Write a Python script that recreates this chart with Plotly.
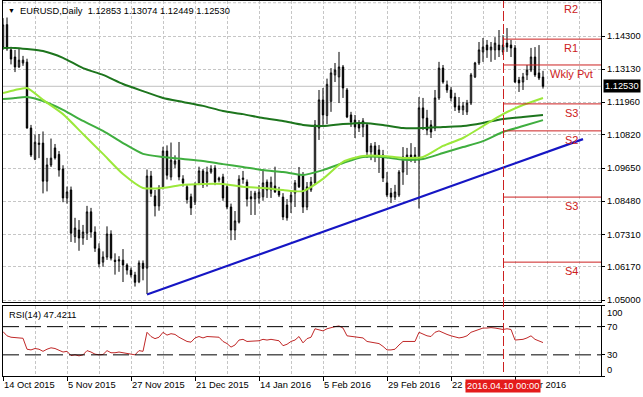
import plotly.graph_objects as go

# ---------------- data ----------------
tick_bars = [0, 16, 32, 48, 64, 80, 96, 112, 128]
tick_labels = ["14 Oct 2015", "5 Nov 2015", "27 Nov 2015", "21 Dec 2015", "14 Jan 2016",
               "5 Feb 2016", "29 Feb 2016", "22 Mar 2016", "14 Apr 2016"]

price_ticks = [1.14300, 1.13130, 1.11960, 1.10820, 1.09650, 1.08480, 1.07310, 1.06170, 1.05000]

opens = [1.1391, 1.1470, 1.1381, 1.1356, 1.1321, 1.1335, 1.1338, 1.1106, 1.0996, 1.1048,
         1.1053, 1.0919, 1.0976, 1.1036, 1.1013, 1.0962, 1.0860, 1.0888, 1.0724, 1.0747,
         1.0719, 1.0736, 1.0811, 1.0740, 1.0681, 1.0634, 1.0652, 1.0733, 1.0641, 1.0638,
         1.0641, 1.0624, 1.0606, 1.0589, 1.0565, 1.0630, 1.0613, 1.0937, 1.0867, 1.0832,
         1.0895, 1.1025, 1.0934, 1.0979, 1.0993, 1.0927, 1.0899, 1.0864, 1.0846, 1.0913,
         1.0955, 1.0916, 1.0951, 1.0965, 1.0923, 1.0934, 1.0899, 1.0828, 1.0747, 1.0775,
         1.0925, 1.0916, 1.0864, 1.0857, 1.0860, 1.0864, 1.0916, 1.0888, 1.0902, 1.0884,
         1.0863, 1.0835, 1.0846, 1.0877, 1.0941, 1.0941, 1.0828, 1.0888, 1.0913, 1.1106,
         1.1205, 1.1150, 1.1200, 1.1293, 1.1286, 1.1321, 1.1240, 1.1152, 1.1134, 1.1124,
         1.1110, 1.1117, 1.1022, 1.1043, 1.1029, 1.1011, 1.0913, 1.0877, 1.0863, 1.0870,
         1.0951, 1.0993, 1.1011, 1.1011, 1.0993, 1.1177, 1.1141, 1.1117, 1.1106, 1.1212,
         1.1317, 1.1258, 1.1240, 1.1215, 1.1184, 1.1170, 1.1163, 1.1194, 1.1286, 1.1335,
         1.1374, 1.1398, 1.1381, 1.1381, 1.1398, 1.1374, 1.1405, 1.1398, 1.1388, 1.1275,
         1.1268, 1.1293, 1.1310, 1.1356, 1.1300, 1.12853]
highs = [1.1493, 1.1495, 1.1392, 1.1381, 1.1385, 1.1360, 1.1350, 1.1117, 1.1083, 1.1085,
         1.1094, 1.1001, 1.1069, 1.1050, 1.1025, 1.0975, 1.0900, 1.0900, 1.0790, 1.0782,
         1.0765, 1.0832, 1.0825, 1.0760, 1.0700, 1.0672, 1.0760, 1.0746, 1.0665, 1.0655,
         1.0680, 1.0630, 1.0615, 1.0600, 1.0640, 1.0640, 1.0960, 1.0955, 1.0888, 1.0905,
         1.1040, 1.1045, 1.1055, 1.1010, 1.1057, 1.0940, 1.0908, 1.0875, 1.0915, 1.0970,
         1.0962, 1.0970, 1.0975, 1.0975, 1.0935, 1.0945, 1.0905, 1.0840, 1.0814, 1.0940,
         1.0955, 1.0925, 1.0885, 1.0885, 1.0905, 1.0960, 1.0925, 1.0935, 1.0970, 1.0899,
         1.0877, 1.0856, 1.0881, 1.0923, 1.0969, 1.0951, 1.0916, 1.0934, 1.1134, 1.1240,
         1.1247, 1.1280, 1.1317, 1.1335, 1.1374, 1.1328, 1.1247, 1.1163, 1.1152, 1.1134,
         1.1141, 1.1124, 1.1053, 1.1057, 1.1046, 1.1029, 1.0951, 1.0895, 1.0906, 1.0958,
         1.1039, 1.1036, 1.1053, 1.1039, 1.1215, 1.1212, 1.1170, 1.1134, 1.1240, 1.1339,
         1.1328, 1.1273, 1.1250, 1.1230, 1.1215, 1.1198, 1.1205, 1.1300, 1.1339, 1.1409,
         1.1423, 1.1416, 1.1409, 1.1426, 1.1451, 1.1433, 1.1458, 1.1416, 1.1398, 1.1286,
         1.1300, 1.1328, 1.1388, 1.1391, 1.1398, 1.13074]
lows = [1.1381, 1.1378, 1.1330, 1.1303, 1.1318, 1.1325, 1.1104, 1.1004, 1.0993, 1.1000,
        1.0876, 1.0883, 1.0969, 1.0995, 1.0935, 1.0845, 1.0840, 1.0705, 1.0702, 1.0674,
        1.0695, 1.0712, 1.0720, 1.0670, 1.0616, 1.0618, 1.0642, 1.0640, 1.0590, 1.0600,
        1.0564, 1.0590, 1.0580, 1.0548, 1.0560, 1.0570, 1.0522, 1.0864, 1.0795, 1.0815,
        1.0890, 1.0925, 1.0922, 1.0965, 1.0922, 1.0900, 1.0840, 1.0800, 1.0835, 1.0905,
        1.0895, 1.0900, 1.0945, 1.0905, 1.0915, 1.0850, 1.0820, 1.0711, 1.0712, 1.0770,
        1.0910, 1.0830, 1.0800, 1.0800, 1.0840, 1.0850, 1.0860, 1.0860, 1.0878, 1.0863,
        1.0782, 1.0780, 1.0807, 1.0828, 1.0895, 1.0807, 1.0817, 1.0881, 1.0906, 1.1064,
        1.1117, 1.1120, 1.1163, 1.1268, 1.1194, 1.1212, 1.1141, 1.1110, 1.1071, 1.1092,
        1.1074, 1.1001, 1.0993, 1.0986, 1.0948, 1.0916, 1.0863, 1.0842, 1.0853, 1.0863,
        1.0906, 1.0941, 1.0986, 1.0983, 1.0823, 1.1099, 1.1081, 1.1071, 1.1095, 1.1205,
        1.1262, 1.1230, 1.1200, 1.1166, 1.1159, 1.1152, 1.1152, 1.1187, 1.1282, 1.1328,
        1.1339, 1.1353, 1.1339, 1.1346, 1.1356, 1.1363, 1.1374, 1.1356, 1.1265, 1.1233,
        1.1240, 1.1275, 1.1303, 1.1286, 1.1275, 1.12449]
closes = [1.1469, 1.1385, 1.1349, 1.1321, 1.1345, 1.1345, 1.1106, 1.1011, 1.1056, 1.1053,
          1.0919, 1.0976, 1.1000, 1.1001, 1.0958, 1.0860, 1.0881, 1.0736, 1.0754, 1.0719,
          1.0740, 1.0811, 1.0740, 1.0683, 1.0628, 1.0652, 1.0733, 1.0648, 1.0636, 1.0642,
          1.0624, 1.0606, 1.0589, 1.0563, 1.0631, 1.0612, 1.0937, 1.0876, 1.0832, 1.0895,
          1.1025, 1.0940, 1.0993, 1.0990, 1.0934, 1.0913, 1.0854, 1.0825, 1.0906, 1.0955,
          1.0906, 1.0951, 1.0962, 1.0916, 1.0930, 1.0860, 1.0828, 1.0747, 1.0779, 1.0926,
          1.0930, 1.0856, 1.0857, 1.0877, 1.0880, 1.0913, 1.0888, 1.0915, 1.0881, 1.0870,
          1.0793, 1.0790, 1.0870, 1.0913, 1.0899, 1.0828, 1.0899, 1.0916, 1.1117, 1.1205,
          1.1152, 1.1260, 1.1300, 1.1310, 1.1321, 1.1247, 1.1145, 1.1127, 1.1110, 1.1106,
          1.1131, 1.1022, 1.1043, 1.1011, 1.1011, 1.0930, 1.0870, 1.0863, 1.0881, 1.0951,
          1.1004, 1.1011, 1.1000, 1.0993, 1.1177, 1.1141, 1.1099, 1.1092, 1.1212, 1.1317,
          1.1268, 1.1240, 1.1212, 1.1180, 1.1170, 1.1184, 1.1194, 1.1293, 1.1335, 1.1381,
          1.1391, 1.1381, 1.1391, 1.1405, 1.1381, 1.1398, 1.1391, 1.1388, 1.1268, 1.1265,
          1.1286, 1.1310, 1.1356, 1.1293, 1.1282, 1.12530]

rsi = [63, 57, 55, 54, 54, 53.5, 38, 37, 39, 38,
       35, 38, 40, 39, 37, 34, 35, 29, 30, 28.6,
       30, 36, 34, 31, 30, 30.5, 36, 33, 33, 34,
       33, 32, 31, 30, 36, 35, 62, 56, 53, 55,
       62, 58, 60, 59, 55, 52, 49, 48, 54, 56,
       54, 56, 56, 55, 55, 49, 46, 41, 44, 51,
       52, 49, 49, 50, 50, 52, 51, 52, 51, 50,
       43, 45, 49, 51, 56, 47, 53, 55, 67, 66,
       64, 67, 69, 70, 71, 68, 57, 56, 55, 55,
       54, 49, 48, 47, 46, 42, 37, 37, 38, 44,
       49, 49, 49, 49, 62, 59, 57, 56, 62, 64,
       61, 59, 57, 55, 54, 55, 57, 62, 64, 67,
       68, 68, 68.6, 68, 67, 66, 67, 66, 51, 51,
       52, 54, 57, 52, 50, 47.42]

ma_bars = [0, 3, 6, 10, 15, 20, 25, 30, 35, 40, 45, 50, 55, 60, 65, 70, 75, 80, 85, 90,
           95, 100, 105, 110, 115, 120, 125, 130, 135]
ma_slow = [1.1388, 1.1388, 1.1384, 1.1377, 1.1353, 1.1317, 1.1293, 1.1261, 1.1236, 1.1212,
           1.1198, 1.1184, 1.1166, 1.1155, 1.1141, 1.1131, 1.1117, 1.1113, 1.1120, 1.1124,
           1.1117, 1.1106, 1.1106, 1.1110, 1.1113, 1.1124, 1.1138, 1.1145, 1.1152]
ma_mid = [1.1208, 1.1212, 1.1215, 1.1201, 1.1170, 1.1131, 1.1096, 1.1053, 1.1015, 1.1004,
          1.0997, 1.0990, 1.0979, 1.0969, 1.0958, 1.0951, 1.0941, 1.0958, 1.0983, 1.1004,
          1.1004, 1.0994, 1.0997, 1.1018, 1.1039, 1.1060, 1.1092, 1.1113, 1.1134]
ma_fast = [1.1229, 1.1240, 1.1247, 1.1205, 1.1155, 1.1085, 1.1015, 1.0944, 1.0895, 1.0895,
           1.0906, 1.0909, 1.0909, 1.0899, 1.0895, 1.0888, 1.0884, 1.0927, 1.0987, 1.1008,
           1.1008, 1.1001, 1.1004, 1.1043, 1.1071, 1.1113, 1.1155, 1.1187, 1.1212]

trend_bars = [36, 145]
trend_prices = [1.0520, 1.1067]

pivot_names = ["R2", "R1", "Wkly Pvt", "S3", "S2", "S3", "S4"]
pivot_levels = [1.1556, 1.1419, 1.1328, 1.1191, 1.1096, 1.0863, 1.0634]
pivot_start_bar = 125
pivot_date_label = "2016.04.10 00:00"

header = "EURUSD,Daily  1.12853 1.13074 1.12449 1.12530"
rsi_title = "RSI(14) 47.4211"
last_price = 1.12530
rsi_levels = [70, 30]
rsi_axis_labels = ["100", "70", "30", "0"]
rsi_axis_label_rows = [313, 327, 355, 370]

# ---------------- figure ----------------
bars = list(range(len(opens)))
FONT = "Liberation Sans, Arial, sans-serif"
GRID = "#c6c6c6"
RED = "#cc2020"
XMAX = 149.5
YMIN, YMAX = 1.04937, 1.15532
W, H = 643, 397
ML, MR, MT, MB = 3, 42, 1, 21
PH = H - MT - MB
MAIN_BOTTOM_PX = 302
VLINE_X = pivot_start_bar + 0.125   # half-pixel nudge for a crisp 1px line


def py(px):
    """pixel row -> paper y"""
    return (H - MB - px) / PH


def pxx(px):
    return (px - ML) / (W - ML - MR)


def price_to_paper(p):
    d0 = py(MAIN_BOTTOM_PX)
    return d0 + (p - YMIN) / (YMAX - YMIN) * (1 - d0)


fig = go.Figure()

fig.add_trace(go.Candlestick(
    x=bars, open=opens, high=highs, low=lows, close=closes,
    increasing=dict(line=dict(color="black", width=1), fillcolor="white"),
    decreasing=dict(line=dict(color="black", width=1), fillcolor="black"),
    whiskerwidth=0, xaxis="x", yaxis="y", hoverinfo="skip"))

for vals, col in [(ma_slow, "#1d751d"), (ma_mid, "#3fae3f"), (ma_fast, "#9be83a")]:
    fig.add_trace(go.Scatter(x=ma_bars, y=vals, mode="lines",
                             line=dict(color=col, width=2, shape="spline", smoothing=0.6),
                             xaxis="x", yaxis="y", hoverinfo="skip"))

fig.add_trace(go.Scatter(x=trend_bars, y=trend_prices, mode="lines",
                         line=dict(color="#1616c4", width=2.2),
                         xaxis="x", yaxis="y", hoverinfo="skip"))

fig.add_trace(go.Scatter(x=bars, y=rsi, mode="lines",
                         line=dict(color="#c02828", width=1),
                         xaxis="x2", yaxis="y2", hoverinfo="skip"))

shapes = []
shapes.append(dict(type="line", xref="x domain", yref="y", x0=0, x1=1, y0=last_price, y1=last_price,
                   line=dict(color="#c0c0c0", width=1), layer="below"))
shapes.append(dict(type="line", xref="x domain", yref="y", x0=0, x1=1, y0=1.1547, y1=1.1547,
                   line=dict(color=GRID, width=1, dash="3px,2px"), layer="below"))
for lv in rsi_levels:
    shapes.append(dict(type="line", xref="x2 domain", yref="y2", x0=0, x1=1, y0=lv, y1=lv,
                       line=dict(color="black", width=1, dash="16px,6px")))
for lv in pivot_levels:
    shapes.append(dict(type="line", xref="x", yref="y", x0=pivot_start_bar, x1=XMAX, y0=lv, y1=lv,
                       line=dict(color=RED, width=1)))
shapes.append(dict(type="line", xref="x", yref="paper", x0=VLINE_X, x1=VLINE_X,
                   y0=py(372), y1=1, line=dict(color=RED, width=1, dash="10px,3px")))

annotations = []
txtfont = dict(size=9.3, color="black", family=FONT)
annotations.append(dict(text="▼", xref="paper", yref="paper", x=pxx(6), y=py(11), xanchor="left",
                        yanchor="middle", showarrow=False, font=dict(size=7, color="black", family=FONT)))
annotations.append(dict(text=header, xref="paper", yref="paper", x=pxx(18), y=py(11), xanchor="left",
                        yanchor="middle", showarrow=False, font=txtfont))
annotations.append(dict(text=rsi_title, xref="paper", yref="paper", x=pxx(7), y=py(315), xanchor="left",
                        yanchor="middle", showarrow=False, font=txtfont))
for txt, ypx in zip(rsi_axis_labels, rsi_axis_label_rows):
    annotations.append(dict(text=txt, xref="paper", yref="paper", x=1, xshift=4, y=py(ypx), xanchor="left",
                            yanchor="middle", showarrow=False, font=txtfont))
for v in price_ticks:
    annotations.append(dict(text=f"{v:.5f}", xref="paper", yref="y", x=1, xshift=4, y=v, xanchor="left",
                            yanchor="middle", showarrow=False, font=txtfont))
for name, lv in zip(pivot_names, pivot_levels):
    annotations.append(dict(text=name, xref="x", yref="paper", x=142, y=price_to_paper(lv),
                            xanchor="center", yanchor="top", yshift=-1, showarrow=False,
                            font=dict(size=11, color=RED, family=FONT)))
annotations.append(dict(text=f"{last_price:.5f}", xref="paper", yref="y", x=1, xshift=2, y=last_price,
                        xanchor="left", yanchor="middle", showarrow=False, bgcolor="black", borderpad=1,
                        font=dict(size=9.3, color="white", family=FONT)))
annotations.append(dict(text=pivot_date_label, xref="x2", yref="paper", x=pivot_start_bar, y=py(386),
                        xanchor="center", yanchor="middle", showarrow=False, bgcolor="#e41b1b", borderpad=1,
                        font=dict(size=9.3, color="white", family=FONT)))

axis_common = dict(showline=True, mirror=True, linecolor="black", linewidth=1, zeroline=False)
xgrid = dict(showgrid=True, gridcolor=GRID, griddash="3px,2px", gridwidth=1)

fig.update_layout(
    width=W, height=H, margin=dict(l=ML, r=MR, t=MT, b=MB, pad=0),
    paper_bgcolor="white", plot_bgcolor="white", showlegend=False, boxgap=0.5,
    font=dict(family=FONT, size=9.3, color="black"),
    xaxis=dict(domain=[0, 1], range=[0, XMAX], anchor="y", tickvals=tick_bars, showticklabels=False,
               ticks="", rangeslider=dict(visible=False),
               minor=dict(tick0=0, dtick=8, showgrid=True, gridcolor=GRID, griddash="3px,2px", ticks=""),
               **xgrid, **axis_common),
    yaxis=dict(domain=[py(MAIN_BOTTOM_PX), 1], range=[YMIN, YMAX], side="right", anchor="x",
               tickvals=price_ticks, showticklabels=False,
               ticks="outside", ticklen=3, tickcolor="black",
               showgrid=True, gridcolor=GRID, griddash="3px,2px", **axis_common),
    xaxis2=dict(domain=[0, 1], range=[0, XMAX], anchor="y2", tickvals=tick_bars, ticktext=tick_labels,
                ticks="outside", ticklen=4, tickcolor="black", ticklabelposition="outside right",
                minor=dict(tick0=0, dtick=8, showgrid=True, gridcolor=GRID, griddash="3px,2px", ticks=""),
                **xgrid, **axis_common),
    yaxis2=dict(domain=[0, py(305.5)], range=[0, 100], side="right", anchor="x2",
                tickvals=[100, 70, 30, 0], showticklabels=False,
                ticks="outside", ticklen=3, tickcolor="black", showgrid=False, **axis_common),
    shapes=shapes, annotations=annotations,
)

fig.write_html("out.html", config={"displayModeBar": False, "staticPlot": True},
               post_script="document.body.style.margin='0px';")
